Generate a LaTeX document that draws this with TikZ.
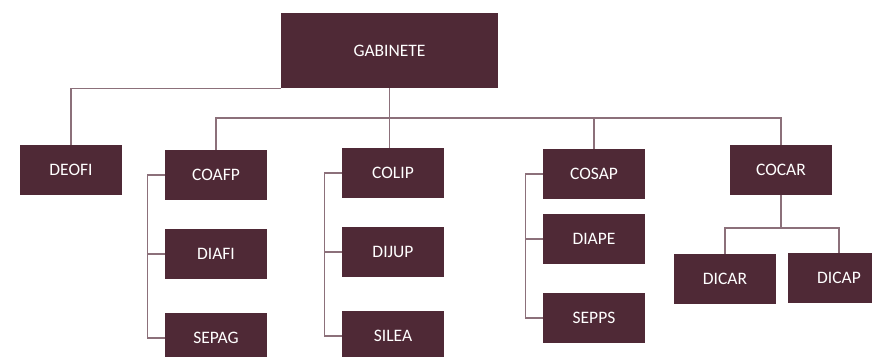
\documentclass[tikz,border=0pt]{standalone}
\usepackage{fontspec}
\setmainfont{Carlito}
\definecolor{vino}{RGB}{79,41,54}
\definecolor{linea}{RGB}{140,112,122}
\begin{document}
\begin{tikzpicture}[x=1pt,y=-1pt]
 \tikzset{unidad/.style={fill=vino, text=white, minimum width=102pt, minimum height=50pt, inner sep=0pt, font=\fontsize{17.5}{19}\selectfont}}
 \tikzset{enlace/.style={draw=linea, line width=1.2pt}}
  \clip (0,0) rectangle (872,356);
  \node[unidad, minimum width=217pt, minimum height=75pt] (GAB) at (389.5,50.5) {GABINETE};
  \node[unidad] (DEOFI) at (71,170) {DEOFI};
  \node[unidad] (COAFP) at (216,175) {COAFP};
  \node[unidad] (DIAFI) at (216,254) {DIAFI};
  \node[unidad] (SEPAG) at (216,338) {SEPAG};
  \node[unidad] (COLIP) at (393,173) {COLIP};
  \node[unidad] (DIJUP) at (393,252) {DIJUP};
  \node[unidad] (SILEA) at (393,336) {SILEA};
  \node[unidad] (COSAP) at (594,174) {COSAP};
  \node[unidad] (DIAPE) at (594,239) {DIAPE};
  \node[unidad] (SEPPS) at (594,318) {SEPPS};
  \node[unidad] (COCAR) at (781,170) {COCAR};
  \node[unidad] (DICAR) at (725,279) {DICAR};
  \node[unidad] (DICAP) at (839,278) {DICAP};
  \coordinate (bus) at (389.5,118);
  \coordinate (bus2) at (781,228);
  \draw[enlace] (GAB.south west) -| (DEOFI.north);
  \draw[enlace] (GAB.south) -- (GAB.south |- COLIP.north);
  \draw[enlace] (COAFP.north) |- (bus) -| (COCAR.north);
  \draw[enlace] (COSAP.north) -- (COSAP.north |- bus);
  % grupos laterales
  \draw[enlace] (COAFP.west) -- ++(-17,0) |- (DIAFI.west);
  \draw[enlace] (COAFP.west) ++(-17,0) |- (SEPAG.west);
  \draw[enlace] (COLIP.west) -- ++(-17,0) |- (DIJUP.west);
  \draw[enlace] (COLIP.west) ++(-17,0) |- (SILEA.west);
  \draw[enlace] (COSAP.west) -- ++(-17,0) |- (DIAPE.west);
  \draw[enlace] (COSAP.west) ++(-17,0) |- (SEPPS.west);
  \draw[enlace] (COCAR.south) -- (bus2);
  \draw[enlace] (DICAR.north) |- (bus2) -| (DICAP.north);
\end{tikzpicture}
\end{document}
